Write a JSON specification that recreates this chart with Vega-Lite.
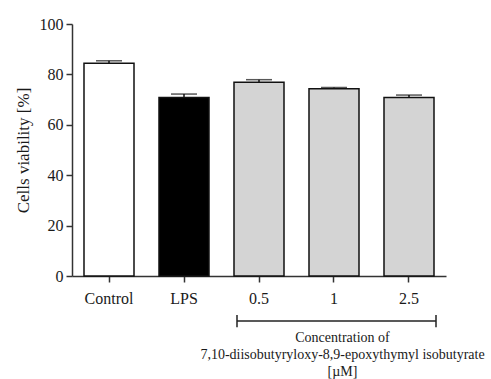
{
  "$schema": "https://vega.github.io/schema/vega-lite/v6.json",
  "width": 374,
  "height": 252,
  "autosize": {"type": "none"},
  "padding": {"left": 72, "top": 24, "right": 45, "bottom": 103},
  "background": "white",
  "config": {
    "view": {"stroke": null},
    "font": "Liberation Serif",
    "axis": {
      "domainColor": "#333333",
      "domainWidth": 1.5,
      "tickColor": "#333333",
      "tickWidth": 1.5,
      "tickSize": 6,
      "labelColor": "#1a1a1a",
      "titleColor": "#1a1a1a",
      "labelFont": "Liberation Serif",
      "titleFont": "Liberation Serif",
      "grid": false
    }
  },
  "layer": [
    {
      "data": {
        "values": [
          {"group": "Control", "kind": "Control", "value": 84.4, "err": 85.4},
          {"group": "LPS", "kind": "LPS", "value": 70.8, "err": 72.2},
          {"group": "0.5", "kind": "Compound", "value": 76.9, "err": 77.9},
          {"group": "1", "kind": "Compound", "value": 74.3, "err": 74.8},
          {"group": "2.5", "kind": "Compound", "value": 70.8, "err": 71.8}
        ]
      },
      "layer": [
        {
          "mark": {"type": "rule", "color": "#111111", "strokeWidth": 1.5},
          "encoding": {
            "x": {"field": "group", "type": "nominal", "sort": null,
              "scale": {"domain": ["Control", "LPS", "0.5", "1", "2.5"], "paddingInner": 0.3333, "paddingOuter": 0.16},
              "axis": {
                "labelAngle": 0,
                "labelFont": "Liberation Serif",
                "labelFontSize": 16,
                "labelFontWeight": "normal",
                "labelPadding": 8,
                "title": ["Concentration of", "7,10-diisobutyryloxy-8,9-epoxythymyl isobutyrate", "[µM]"],
                "titleFont": "Liberation Serif",
                "titleFontSize": 14,
                "titleFontWeight": "normal",
                "titleLineHeight": 17,
                "titleX": 270,
                "titleY": 54,
                "titleBaseline": "top",
                "titleAlign": "center"
              }
            },
            "y": {"field": "value", "type": "quantitative",
              "scale": {"domain": [0, 100], "nice": false},
              "axis": {
                "values": [0, 20, 40, 60, 80, 100],
                "labelFont": "Liberation Serif",
                "labelFontSize": 16,
                "labelFontWeight": "normal",
                "labelPadding": 3,
                "title": "Cells viability [%]",
                "titleFont": "Liberation Serif",
                "titleFontSize": 17,
                "titleFontWeight": "normal",
                "titleX": -49,
                "titleY": 126,
                "titleAngle": 270,
                "titleBaseline": "middle",
                "titleAlign": "center"
              }
            },
            "y2": {"field": "err"}
          }
        },
        {
          "mark": {"type": "tick", "color": "#111111", "thickness": 1.5, "size": 26},
          "encoding": {
            "x": {"field": "group", "type": "nominal", "sort": null},
            "y": {"field": "err", "type": "quantitative"}
          }
        },
        {
          "mark": {"type": "bar", "stroke": "#111111", "strokeWidth": 1.5},
          "encoding": {
            "x": {"field": "group", "type": "nominal", "sort": null},
            "y": {"field": "value", "type": "quantitative"},
            "color": {"field": "kind", "type": "nominal",
              "scale": {"domain": ["Control", "LPS", "Compound"], "range": ["#ffffff", "#000000", "#d4d4d4"]},
              "legend": null
            }
          }
        }
      ]
    },
    {
      "data": {"values": [{"start": "0.5", "end": "2.5"}]},
      "layer": [
        {
          "mark": {"type": "rule", "color": "#222222", "strokeWidth": 1.5},
          "encoding": {
            "x": {"field": "start", "type": "nominal", "bandPosition": 0.06},
            "x2": {"field": "end", "bandPosition": 1.04},
            "y": {"datum": -17.9, "type": "quantitative"}
          }
        },
        {
          "mark": {"type": "rule", "color": "#222222", "strokeWidth": 1.5},
          "encoding": {
            "x": {"field": "start", "type": "nominal", "bandPosition": 0.06},
            "y": {"datum": -15.5, "type": "quantitative"},
            "y2": {"datum": -20.3}
          }
        },
        {
          "mark": {"type": "rule", "color": "#222222", "strokeWidth": 1.5},
          "encoding": {
            "x": {"field": "end", "type": "nominal", "bandPosition": 1.04},
            "y": {"datum": -15.5, "type": "quantitative"},
            "y2": {"datum": -20.3}
          }
        }
      ]
    }
  ]
}
